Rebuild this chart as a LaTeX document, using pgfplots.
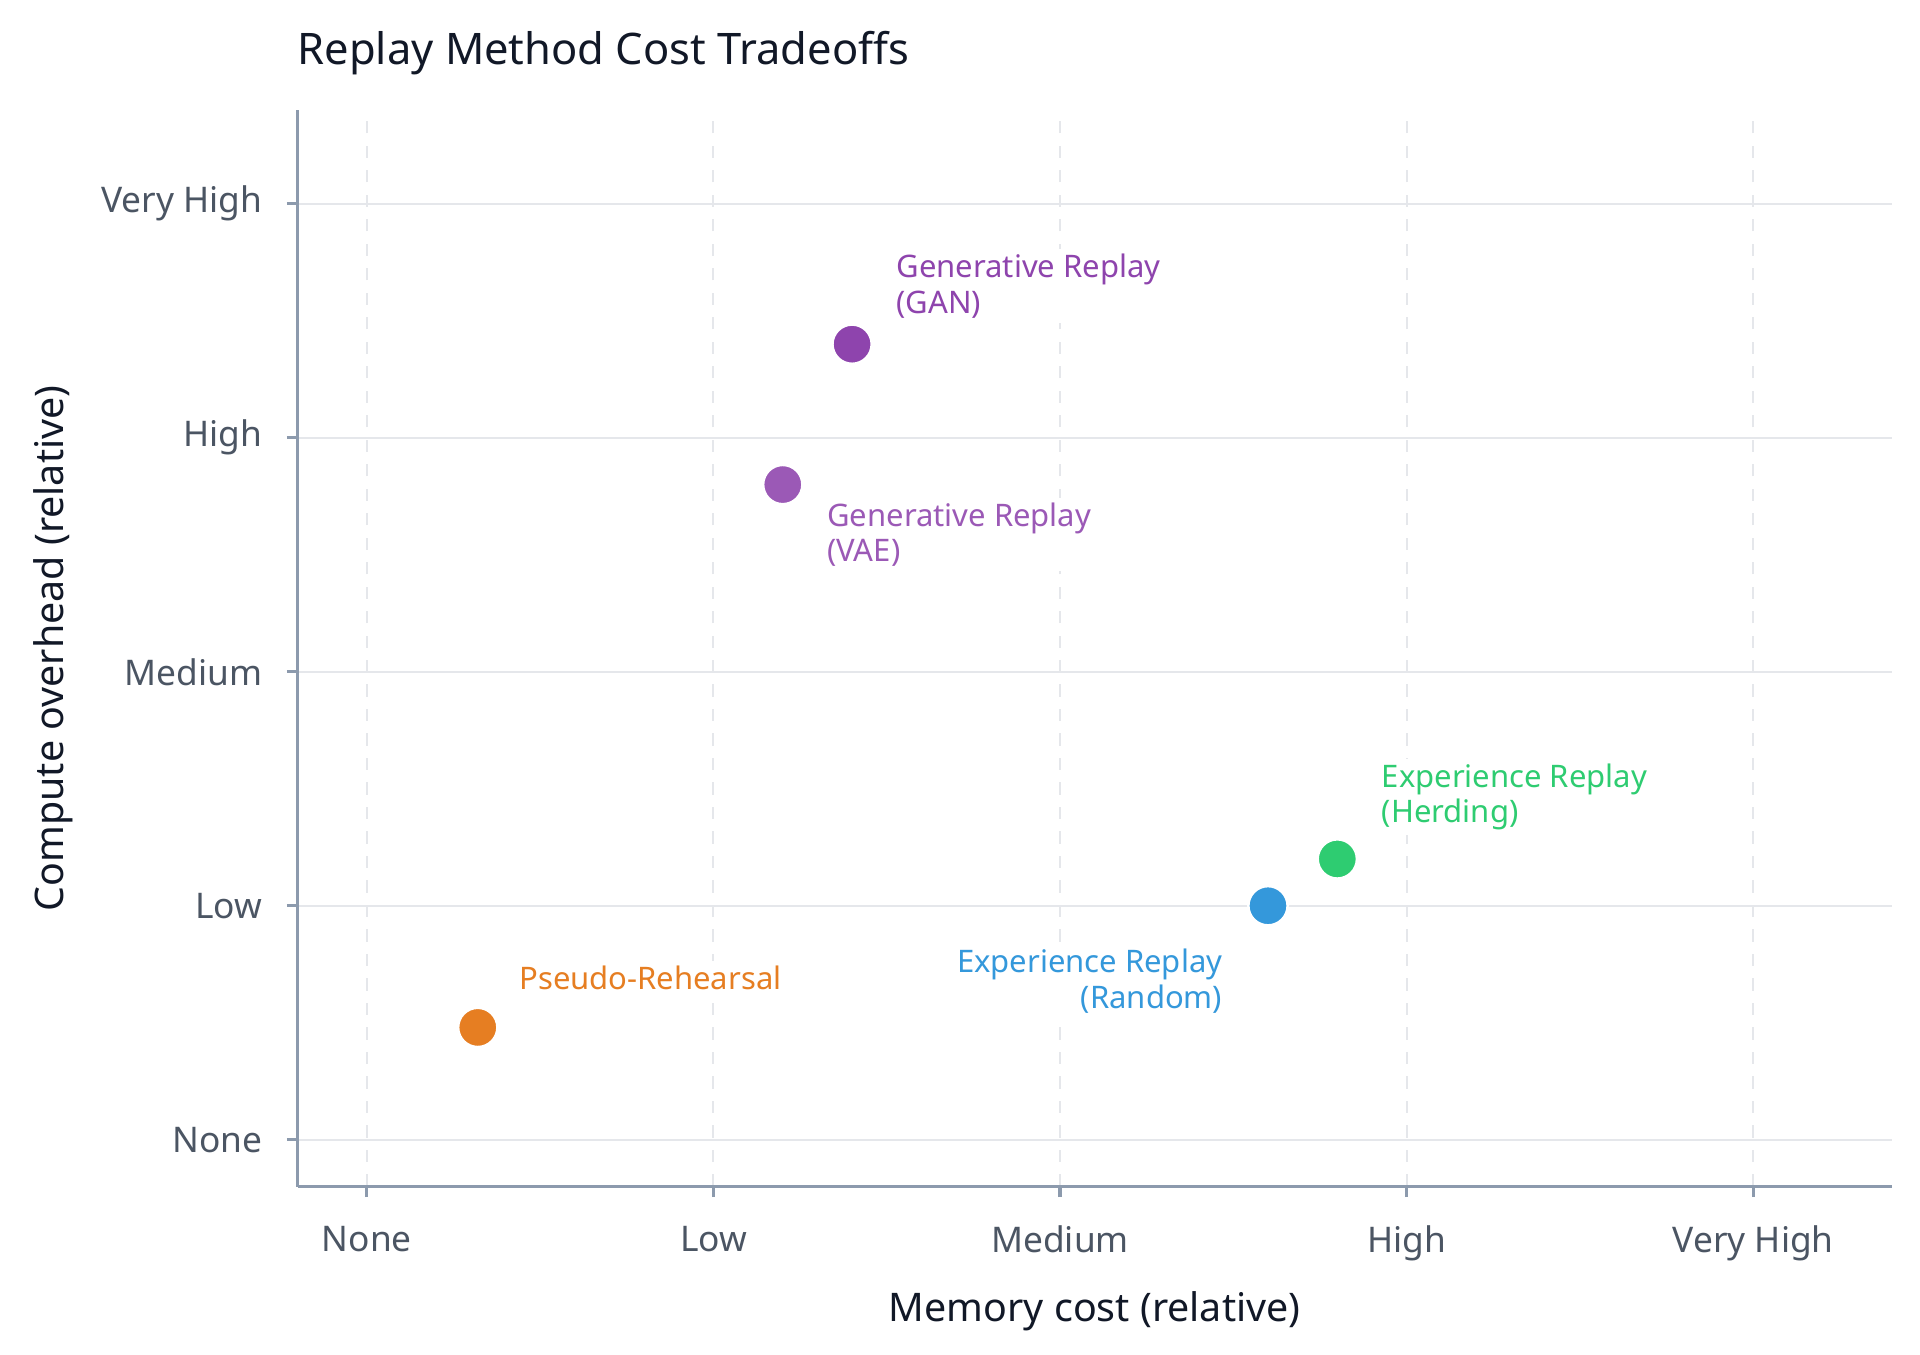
\documentclass[border=0pt]{standalone}
\usepackage{pgfplots}
\pgfplotsset{compat=1.18}
\usepackage{fontspec}
\setmainfont{Noto Sans}
\definecolor{gridc}{HTML}{E5E7EB}
\definecolor{axisc}{HTML}{8C9AAD}
\definecolor{tickc}{HTML}{4B5563}
\definecolor{titlec}{HTML}{111827}
\definecolor{gan}{HTML}{8E44AD}
\definecolor{vae}{HTML}{9B59B6}
\definecolor{herd}{HTML}{2ECC71}
\definecolor{rand}{HTML}{3498DB}
\definecolor{pseudo}{HTML}{E67E22}
\tikzset{lbl/.style={fill=white, inner sep=1.2pt, font=\fontsize{7.6}{8.7}\selectfont}}
\begin{document}
\begin{tikzpicture}
\begin{axis}[
    scale only axis,
    width=390.6pt, height=263.7pt,
    xmin=-0.2, xmax=4.4, ymin=-0.2, ymax=4.4,
    axis x line*=bottom, axis y line*=left,
    axis line style={axisc, line width=0.8pt},
    xtick={0,1,2,3,4}, ytick={0,1,2,3,4},
    xticklabels={None,Low,Medium,High,Very High},
    yticklabels={None,Low,Medium,High,Very High},
    tick align=outside, major tick length=2.6pt,
    tick style={axisc, line width=0.8pt},
    ticklabel style={font=\fontsize{8.65}{10}\selectfont, text=tickc},
    xticklabel style={yshift=-3.5pt},
    yticklabel style={xshift=-2.5pt},
    xmajorgrids, ymajorgrids,
    major x grid style={gridc, dashed, line width=0.5pt},
    major y grid style={gridc, solid, line width=0.6pt},
    xlabel={Memory cost (relative)},
    ylabel={Compute overhead (relative)},
    label style={font=\fontsize{9.65}{12}\selectfont, text=titlec},
    xlabel style={yshift=-0.5pt},
    ylabel style={yshift=0pt},
    title={Replay Method Cost Tradeoffs},
    title style={font=\fontsize{10.65}{13}\selectfont, text=titlec, anchor=south west, at={(rel axis cs:0,1)}, yshift=-1pt, xshift=-3.5pt},
    clip=false,
]
\addplot[only marks, mark=*, mark size=4.8pt, gan, mark options={draw=white, line width=0.6pt, fill=gan}]
  coordinates {(1.4,3.4)} node[lbl, text=gan, align=left, anchor=south west, xshift=9.5pt, yshift=5pt] {Generative Replay\\(GAN)};
\addplot[only marks, mark=*, mark size=4.8pt, vae, mark options={draw=white, line width=0.6pt, fill=vae}]
  coordinates {(1.2,2.8)} node[lbl, text=vae, align=left, anchor=north west, xshift=9.5pt, yshift=-3pt] {Generative Replay\\(VAE)};
\addplot[only marks, mark=*, mark size=4.8pt, herd, mark options={draw=white, line width=0.6pt, fill=herd}]
  coordinates {(2.8,1.2)} node[lbl, text=herd, align=left, anchor=south west, xshift=9.5pt, yshift=5.6pt] {Experience Replay\\(Herding)};
\addplot[only marks, mark=*, mark size=4.8pt, rand, mark options={draw=white, line width=0.6pt, fill=rand}]
  coordinates {(2.6,1.0)} node[lbl, text=rand, align=right, anchor=north east, xshift=-9.8pt, yshift=-9.2pt] {Experience Replay\\(Random)};
\addplot[only marks, mark=*, mark size=4.8pt, pseudo, mark options={draw=white, line width=0.6pt, fill=pseudo}]
  coordinates {(0.32,0.48)} node[lbl, text=pseudo, align=left, anchor=south west, xshift=8.8pt, yshift=7.8pt] {Pseudo-Rehearsal};
\coordinate (ll) at (rel axis cs:0,0);
\coordinate (ur) at (rel axis cs:1,1);
\end{axis}
\pgfresetboundingbox
\path ([xshift=-72.9pt, yshift=-41.1pt]ll) rectangle ([xshift=6.9pt, yshift=27pt]ur);
\end{tikzpicture}
\end{document}
